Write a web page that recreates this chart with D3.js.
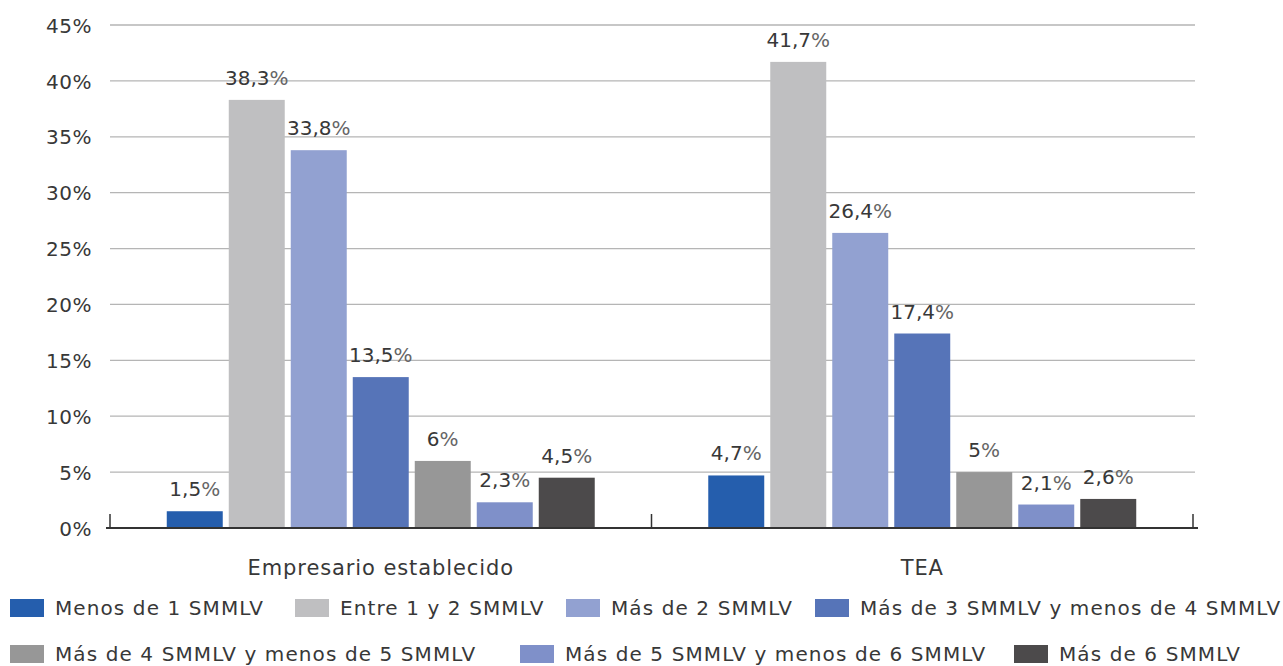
<!DOCTYPE html>
<html>
<head>
<meta charset="utf-8">
<script src="https://cdn.jsdelivr.net/npm/d3@7"></script>
<style>
  html, body { margin: 0; padding: 0; background: #fff; }
  svg { display: block; }
  text { font-family: "DejaVu Sans", sans-serif; fill: #383838; }
</style>
</head>
<body>
<svg id="chart" width="1283" height="666"></svg>
<script>
const categories = ["Empresario establecido", "TEA"];
const seriesNames = [
  "Menos de 1 SMMLV",
  "Entre 1 y 2 SMMLV",
  "Más de 2 SMMLV",
  "Más de 3 SMMLV y menos de 4 SMMLV",
  "Más de 4 SMMLV y menos de 5 SMMLV",
  "Más de 5 SMMLV y menos de 6 SMMLV",
  "Más de 6 SMMLV"
];
const empresarioValues = [1.5, 38.3, 33.8, 13.5, 6, 2.3, 4.5];
const teaValues = [4.7, 41.7, 26.4, 17.4, 5, 2.1, 2.6];
const yTicks = [0, 5, 10, 15, 20, 25, 30, 35, 40, 45];
const colors = ["#255EAD", "#BFBFC1", "#92A1D1", "#5674B8", "#979797", "#7F90C9", "#4C4A4B"];

const valuesByCategory = [empresarioValues, teaValues];
const svg = d3.select("#chart");

const plotLeft = 110, plotRight = 1193, plotTop = 25, plotBottom = 528;

const x0 = d3.scaleBand().domain(categories).range([plotLeft, plotRight]).padding(0);
const x1 = d3.scaleBand().domain(seriesNames).range([0, x0.bandwidth()])
  .paddingInner(0.097).paddingOuter(0.9155);
const y = d3.scaleLinear().domain([0, 45]).range([plotBottom, plotTop]);
const color = d3.scaleOrdinal().domain(seriesNames).range(colors);

// gridlines
svg.append("g")
  .selectAll("line")
  .data(yTicks.filter(t => t > 0))
  .join("line")
  .attr("x1", plotLeft).attr("x2", plotRight + 2)
  .attr("y1", d => y(d)).attr("y2", d => y(d))
  .attr("stroke", "#b5b5b5").attr("stroke-width", 1.3);

// y labels
const yAxis = d3.axisLeft(y).tickValues(yTicks).tickFormat(d => d + "%").tickSize(0).tickPadding(0);
const gy = svg.append("g").attr("transform", `translate(${plotLeft - 18},0)`).call(yAxis);
gy.select(".domain").remove();
gy.selectAll("text").style("font-size", "20px").attr("fill", "#383838")
  .style("font-family", '"DejaVu Sans", sans-serif').style("letter-spacing", "0.5px").attr("dy", "0.36em");

// bars
const rows = categories.map((c, i) => ({ cat: c, vals: valuesByCategory[i] }));
const groups = svg.append("g").selectAll("g")
  .data(rows).join("g")
  .attr("transform", d => `translate(${x0(d.cat)},0)`);

groups.selectAll("rect")
  .data(d => d.vals.map((v, i) => ({ name: seriesNames[i], v })))
  .join("rect")
  .attr("x", d => x1(d.name))
  .attr("width", x1.bandwidth())
  .attr("y", d => y(d.v))
  .attr("height", d => y(0) - y(d.v))
  .attr("fill", d => color(d.name));

// value labels
const fmt = v => String(v).replace(".", ",");
const labels = groups.selectAll("text.val")
  .data(d => d.vals.map((v, i) => ({ name: seriesNames[i], v })))
  .join("text")
  .attr("class", "val")
  .attr("x", d => x1(d.name) + x1.bandwidth() / 2)
  .attr("y", d => y(d.v) - 15)
  .attr("text-anchor", "middle")
  .style("font-size", "20px");
labels.append("tspan").text(d => fmt(d.v)).attr("fill", "#383838");
labels.append("tspan").text("%").attr("fill", "#666");

// x axis baseline and ticks
svg.append("line")
  .attr("x1", plotLeft - 4).attr("x2", plotRight + 5)
  .attr("y1", plotBottom).attr("y2", plotBottom)
  .attr("stroke", "#333").attr("stroke-width", 2);
const boundaries = [plotLeft, x0(categories[1]), plotRight];
svg.append("g").selectAll("line")
  .data(boundaries).join("line")
  .attr("x1", d => d).attr("x2", d => d)
  .attr("y1", plotBottom).attr("y2", plotBottom - 14)
  .attr("stroke", "#333").attr("stroke-width", 1.5);

// category labels
svg.append("g").selectAll("text")
  .data(categories).join("text")
  .attr("x", d => x0(d) + x0.bandwidth() / 2)
  .attr("y", 575)
  .attr("text-anchor", "middle")
  .style("font-size", "21px")
  .style("letter-spacing", "0.9px")
  .text(d => d);

// legend
const legendPos = [[10, 599], [295, 599], [566, 599], [815, 599], [10, 645], [520, 645], [1014, 645]];
const leg = svg.append("g").selectAll("g")
  .data(seriesNames).join("g")
  .attr("transform", (d, i) => `translate(${legendPos[i][0]},${legendPos[i][1]})`);
leg.append("rect").attr("width", 34).attr("height", 18).attr("fill", d => color(d));
leg.append("text").attr("x", 45).attr("y", 9).attr("dy", "0.36em")
  .style("font-size", "20px").style("letter-spacing", "1.1px").text(d => d);
</script>
</body>
</html>
